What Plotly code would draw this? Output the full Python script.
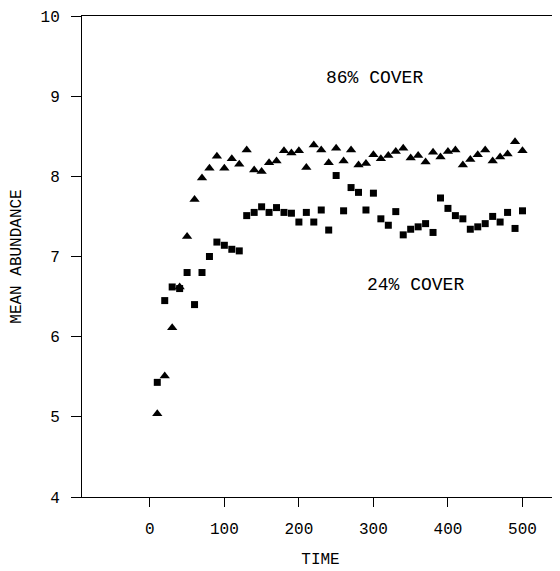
import plotly.graph_objects as go

time_86 = [10, 20, 30, 40, 50, 60, 70, 80, 90, 100, 110, 120, 130, 140, 150, 160, 170, 180, 190, 200,
           210, 220, 230, 240, 250, 260, 270, 280, 290, 300, 310, 320, 330, 340, 350, 360, 370, 380, 390, 400,
           410, 420, 430, 440, 450, 460, 470, 480, 490, 500]
abund_86 = [5.04, 5.51, 6.11, 6.62, 7.25, 7.71, 7.98, 8.10, 8.25, 8.10, 8.22, 8.15, 8.33, 8.08, 8.06, 8.17, 8.19, 8.32, 8.29, 8.32,
            8.11, 8.39, 8.33, 8.17, 8.35, 8.19, 8.33, 8.14, 8.16, 8.27, 8.22, 8.26, 8.31, 8.35, 8.23, 8.26, 8.18, 8.30, 8.24, 8.31,
            8.33, 8.14, 8.21, 8.27, 8.33, 8.19, 8.24, 8.28, 8.43, 8.32]

time_24 = time_86
abund_24 = [5.43, 6.45, 6.62, 6.60, 6.80, 6.40, 6.80, 7.00, 7.18, 7.14, 7.09, 7.07, 7.51, 7.55, 7.62, 7.55, 7.61, 7.55, 7.54, 7.43,
            7.55, 7.43, 7.58, 7.33, 8.01, 7.57, 7.86, 7.80, 7.58, 7.79, 7.47, 7.39, 7.56, 7.27, 7.34, 7.37, 7.41, 7.30, 7.73, 7.60,
            7.51, 7.47, 7.34, 7.37, 7.41, 7.50, 7.43, 7.55, 7.35, 7.57]

x_ticks = [0, 100, 200, 300, 400, 500]
y_ticks = [4, 5, 6, 7, 8, 9, 10]

FONT = "Liberation Mono, Courier New, monospace"

fig = go.Figure()
fig.add_trace(go.Scatter(x=time_24, y=abund_24, mode="markers", name="24% COVER",
                         marker=dict(symbol="square", size=7, color="black")))
fig.add_trace(go.Scatter(x=time_86, y=abund_86, mode="markers", name="86% COVER",
                         marker=dict(symbol="triangle-up", size=9, color="black")))

fig.add_annotation(x=301, y=9.23, text="86% COVER", showarrow=False, xref="x", yref="y",
                   font=dict(family=FONT, size=18, color="black"))
fig.add_annotation(x=357, y=6.65, text="24% COVER", showarrow=False, xref="x", yref="y",
                   font=dict(family=FONT, size=18, color="black"))

# the page body adds an 8px margin, so the figure is 8px smaller and shifted
fig.update_layout(
    width=552, height=563,
    margin=dict(l=74, r=1, t=8, b=74),
    paper_bgcolor="white", plot_bgcolor="white",
    showlegend=False,
    font=dict(family=FONT, size=16, color="black"),
)
fig.update_xaxes(range=[-91, 549], tickvals=x_ticks, ticks="outside", ticklen=9, tickcolor="black",
                 showline=True, linecolor="black", linewidth=1, mirror=True, showgrid=False, zeroline=False,
                 ticklabelstandoff=8, automargin=False,
                 title=dict(text="TIME", font=dict(family=FONT, size=16), standoff=14))
fig.update_yaxes(range=[4, 10], tickvals=y_ticks, ticks="outside", ticklen=10, tickcolor="black",
                 showline=True, linecolor="black", linewidth=1, mirror=True, showgrid=False, zeroline=False,
                 ticklabelstandoff=8, automargin=False,
                 title=dict(text="MEAN ABUNDANCE", font=dict(family=FONT, size=16), standoff=18))

fig.write_html("out.html")
